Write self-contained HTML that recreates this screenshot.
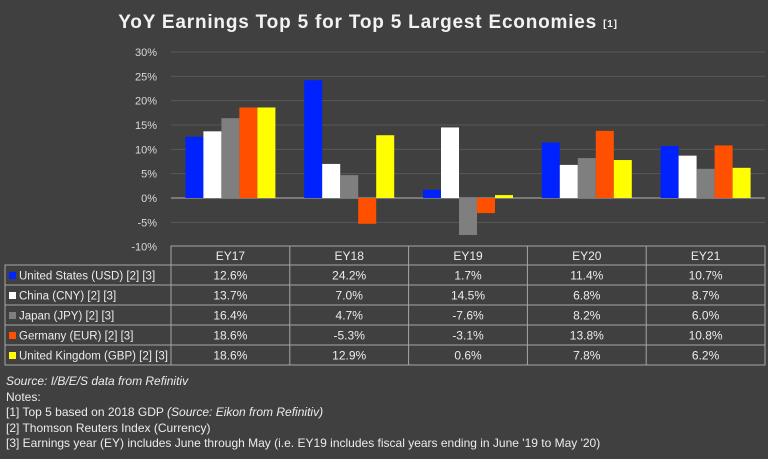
<!DOCTYPE html>
<html><head><meta charset="utf-8"><style>
body{margin:0;background:#404040;width:768px;height:454px;overflow:hidden;font-family:"Liberation Sans",sans-serif;}
svg text{font-family:"Liberation Sans",sans-serif;}
</style></head><body>
<svg id="c" width="768" height="454" xmlns="http://www.w3.org/2000/svg">
<rect x="0" y="0" width="768" height="454" fill="#404040"/>
<text x="368" y="28" text-anchor="middle" fill="#f2f2f2" font-size="19" font-weight="bold" letter-spacing="0.8">YoY Earnings Top 5 for Top 5 Largest Economies <tspan font-size="10" dy="-1">[1]</tspan></text>
<g id="grid"></g><g id="bars"></g><g id="table"></g>
<g fill="#ececec" font-size="12">
<text x="6" y="385" font-style="italic">Source: I/B/E/S data from Refinitiv</text>
<text x="6" y="401">Notes:</text>
<text x="6" y="416">[1] Top 5 based on 2018 GDP <tspan font-style="italic">(Source: Eikon from Refinitiv)</tspan></text>
<text x="6" y="432">[2] Thomson Reuters Index (Currency)</text>
<text x="6" y="447">[3] Earnings year (EY) includes June through May (i.e. EY19 includes fiscal years ending in June '19 to May '20)</text>
</g>
</svg>
<script>
const categories=["EY17","EY18","EY19","EY20","EY21"];
const seriesNames=["United States (USD) [2] [3]","China (CNY) [2] [3]","Japan (JPY) [2] [3]","Germany (EUR) [2] [3]","United Kingdom (GBP) [2] [3]"];
const usd=[12.6,24.2,1.7,11.4,10.7];
const cny=[13.7,7.0,14.5,6.8,8.7];
const jpy=[16.4,4.7,-7.6,8.2,6.0];
const eur=[18.6,-5.3,-3.1,13.8,10.8];
const gbp=[18.6,12.9,0.6,7.8,6.2];
const yTicks=[30,25,20,15,10,5,0,-5,-10];
const series=[usd,cny,jpy,eur,gbp];
const colors=["#0022ff","#ffffff","#7f7f7f","#ff5000","#ffff00"];
const NS="http://www.w3.org/2000/svg";
const x0=171,x1=765,colW=(x1-x0)/categories.length;
function y(v){return 198-(v*146/30);}
function colX(i){return x0+i*colW;}
function mk(tag,attrs,parent){const e=document.createElementNS(NS,tag);for(const k in attrs)e.setAttribute(k,attrs[k]);parent.appendChild(e);return e;}
const grid=document.getElementById('grid'),bars=document.getElementById('bars'),tbl=document.getElementById('table');
yTicks.forEach(t=>{
  if(t>-10){const l=mk('line',{x1:x0,x2:x1,y1:y(t),y2:y(t),stroke:t===0?'#8c8c8c':'#585858','stroke-width':t===0?1.5:1},grid);
  
  }
  const tx=mk('text',{x:157,y:y(t)+4,'text-anchor':'end',fill:'#d9d9d9','font-size':11},grid);
  tx.textContent=t+'%';
  
  
});
const bw=18;
categories.forEach((c,i)=>{
  const start=colX(i)+colW/2-bw*2.5;
  series.forEach((s,j)=>{
    const v=s[i];const yy=Math.min(y(v),y(0));const h=Math.abs(y(v)-y(0));
    const r=mk('rect',{x:start+j*bw,y:yy,width:bw,height:Math.max(h,0.5),fill:colors[j]},bars);
    
    
  });
});
const rowTop=246,hdrH=19,rowH=20,ln='#a6a6a6';
const rowsBottom=rowTop+hdrH+rowH*5;
mk('rect',{x:x0,y:rowTop,width:x1-x0,height:rowsBottom-rowTop,fill:'none',stroke:ln},tbl);
mk('rect',{x:5,y:rowTop+hdrH,width:x0-5,height:rowH*5,fill:'none',stroke:ln},tbl);
for(let i=1;i<categories.length;i++)mk('line',{x1:colX(i),x2:colX(i),y1:rowTop,y2:rowsBottom,stroke:ln},tbl);
for(let r=0;r<5;r++){const yy=rowTop+hdrH+r*rowH;mk('line',{x1:5,x2:x1,y1:yy,y2:yy,stroke:ln},tbl);}
categories.forEach((c,i)=>{
  const t=mk('text',{x:colX(i)+colW/2,y:rowTop+14,'text-anchor':'middle',fill:'#ececec','font-size':12},tbl);
  t.textContent=c;
  
  
});
seriesNames.forEach((n,j)=>{
  const yy=rowTop+hdrH+j*rowH;
  const sw=mk('rect',{x:9,y:yy+7,width:7,height:7,fill:colors[j]},tbl);
  
  
  const t=mk('text',{x:19,y:yy+14.5,fill:'#ececec','font-size':11.5},tbl);
  t.textContent=n;
  
  
  series[j].forEach((v,i)=>{
    const c=mk('text',{x:colX(i)+colW/2,y:yy+14.5,'text-anchor':'middle',fill:'#ececec','font-size':12},tbl);
    c.textContent=v.toFixed(1)+'%';
    
    
  });
});
</script>
</body></html>
